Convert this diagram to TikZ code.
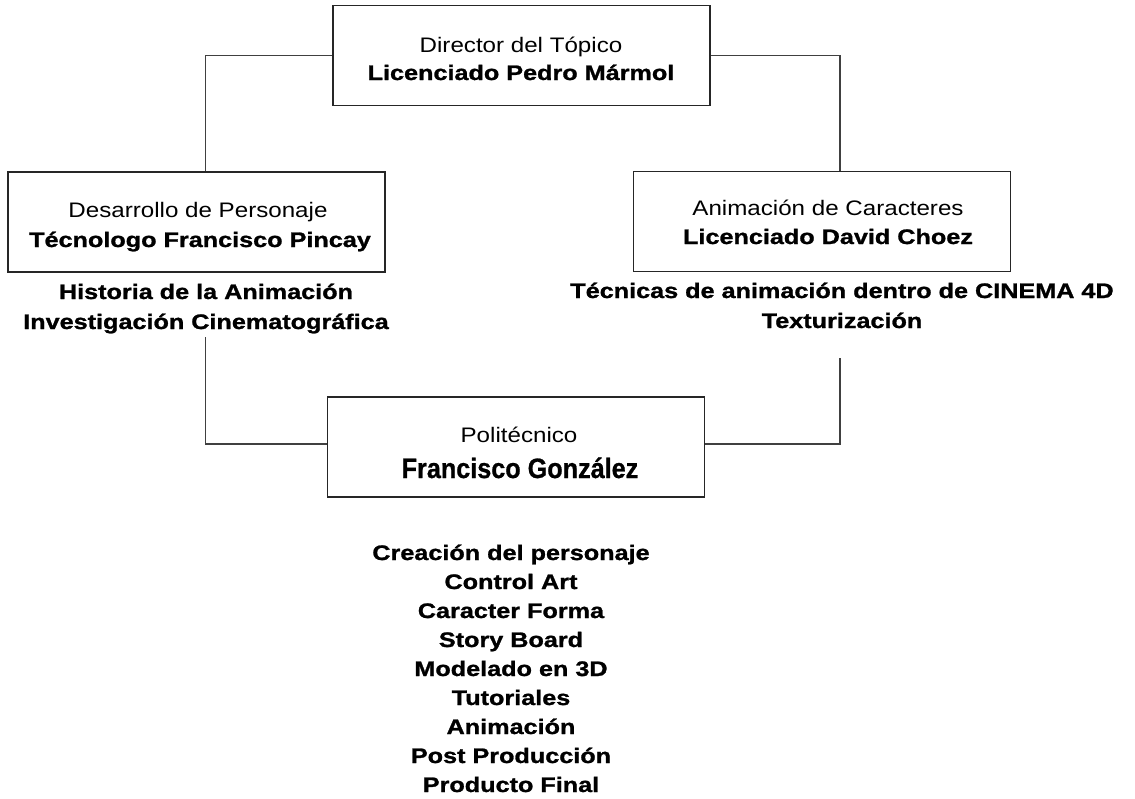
\documentclass[tikz,border=0pt]{standalone}
\usepackage{fontspec}
\setmainfont{Liberation Sans}
\newfontfamily\wreg[FakeStretch=1.15]{Liberation Sans}
\newfontfamily\wbold[FakeStretch=1.2,FakeBold=1.2]{Liberation Sans}
\newfontfamily\nbold[FakeStretch=0.9,FakeBold=0.8]{Liberation Sans}
\begin{document}
\begin{tikzpicture}[x=1pt,y=-1pt,
  box/.style={draw=black!85, line width=1.6pt, minimum width=377pt, minimum height=100pt, inner sep=0pt},
  conn/.style={draw=black!75, line width=1.4pt},
  reg/.style={anchor=base, inner sep=0pt, font=\wreg\fontsize{21}{25}\selectfont},
  bld/.style={anchor=base, inner sep=0pt, font=\wbold\bfseries\fontsize{21}{25}\selectfont},
  big/.style={anchor=base, inner sep=0pt, font=\nbold\bfseries\fontsize{28}{32}\selectfont}]
\path[fill=white,use as bounding box] (0,0) rectangle (1135,798);

% boxes
\node[box] (top)   at (521.5,55.5) {};
\node[box] (left)  at (196.5,222) {};
\node[box] (right) at (822,221.5) {};
\node[box] (bot)   at (516,447) {};

% connector helpers
\coordinate (lx) at (205.5,0);
\coordinate (rx) at (840,0);
\coordinate (lt) at (205.5,337);
\coordinate (rt) at (840,358);

\draw[conn] (top.west) -| (lx |- left.north);
\draw[conn] (top.east) -| (rx |- right.north);
\draw[conn] (lt) |- ([yshift=3pt]bot.west);
\draw[conn] (rt) |- ([yshift=3pt]bot.east);

% box texts
\node[reg] (t1) at (521,52) {Director del Tópico};
\node[bld] (t2) at (521,80) {Licenciado Pedro Mármol};
\node[reg] (l1) at (198,217) {Desarrollo de Personaje};
\node[bld] (l2) at (200,247) {Técnologo Francisco Pincay};
\node[reg] (r1) at (828,215) {Animación de Caracteres};
\node[bld] (r2) at (828,244) {Licenciado David Choez};
\node[reg] (b1) at (519,442) {Politécnico};
\node[big] (b2) at (520,478) {Francisco González};

% texts below boxes
\node[bld] (lb1) at (206,299) {Historia de la Animación};
\node[bld] (lb2) at (206,329) {Investigación Cinematográfica};
\node[bld] (rb1) at (842,298) {Técnicas de animación dentro de CINEMA 4D};
\node[bld] (rb2) at (842,328) {Texturización};

% list
\node[bld] (k1) at (511,560) {Creación del personaje};
\node[bld] (k2) at (511,589) {Control Art};
\node[bld] (k3) at (511,618) {Caracter Forma};
\node[bld] (k4) at (511,647) {Story Board};
\node[bld] (k5) at (511,676) {Modelado en 3D};
\node[bld] (k6) at (511,705) {Tutoriales};
\node[bld] (k7) at (511,734) {Animación};
\node[bld] (k8) at (511,763) {Post Producción};
\node[bld] (k9) at (511,792) {Producto Final};
\end{tikzpicture}
\end{document}
